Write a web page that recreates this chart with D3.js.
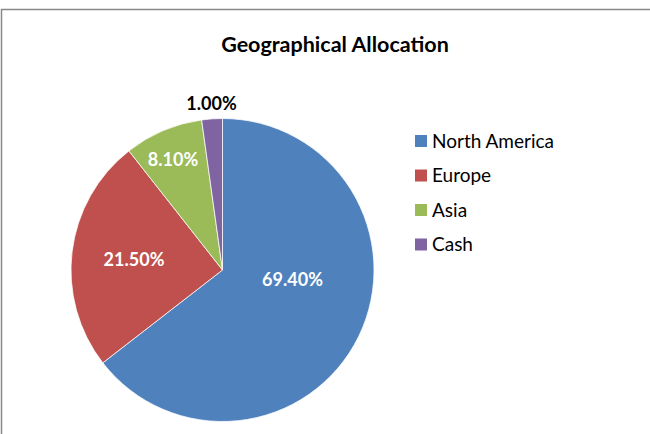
<!DOCTYPE html>
<html>
<head>
<meta charset="utf-8">
<title>Geographical Allocation</title>
<script src="https://d3js.org/d3.v7.min.js"></script>
<style>
  body { margin: 0; background: #fff; }
</style>
</head>
<body>
<div id="chart"></div>
<script>
// categories, wedge sizes as drawn, and the printed labels
var regions = ["North America", "Europe", "Asia", "Cash"];
var shares = [64.5, 24.9, 8.4, 2.2];
var labels = ["69.40%", "21.50%", "8.10%", "1.00%"];
var colors = ["#4F81BD", "#C0504D", "#9BBB59", "#8064A2"];

var width = 650, height = 434;
var cx = 222.5, cy = 270, r = 151.5;

var svg = d3.select("#chart").append("svg")
    .attr("width", width)
    .attr("height", height)
    .style("font-family", "Lato, 'Open Sans', sans-serif");

// chart frame (runs off the right and bottom)
svg.append("rect")
    .attr("x", 1.5).attr("y", 9.5)
    .attr("width", 700).attr("height", 500)
    .attr("fill", "none")
    .attr("stroke", "#888")
    .attr("stroke-width", 1.5);

svg.append("text")
    .attr("x", 335).attr("y", 52)
    .attr("text-anchor", "middle")
    .style("font-size", "21.5px")
    .style("font-weight", "bold")
    .attr("fill", "#000")
    .text("Geographical Allocation");

var data = regions.map(function(d, i) {
    return {region: d, value: shares[i], label: labels[i], color: colors[i]};
});

var pie = d3.pie().sort(null).value(function(d) { return d.value; });
var arc = d3.arc().innerRadius(0).outerRadius(r);
var arcs = pie(data);

var g = svg.append("g").attr("transform", "translate(" + cx + "," + cy + ")");

g.selectAll("path")
    .data(arcs)
    .enter()
    .append("path")
    .attr("d", arc)
    .attr("fill", function(d) { return d.data.color; })
    .attr("stroke", "#fff")
    .attr("stroke-width", 0.75);

// label offsets from the pie centre, as placed in the original
var labelPos = [[70, 10], [-88.5, -10], [-49.5, -110], [-11, -166]];
var labelColor = ["#fff", "#fff", "#fff", "#000"];

g.selectAll("text.lbl")
    .data(arcs)
    .enter()
    .append("text")
    .attr("class", "lbl")
    .attr("x", function(d, i) { return labelPos[i][0]; })
    .attr("y", function(d, i) { return labelPos[i][1]; })
    .attr("dy", "0.35em")
    .attr("text-anchor", "middle")
    .style("font-size", "18px")
    .style("font-weight", "bold")
    .attr("fill", function(d, i) { return labelColor[i]; })
    .text(function(d) { return d.data.label; });

// legend
var legend = svg.append("g").attr("transform", "translate(415,141)");
var item = legend.selectAll("g")
    .data(data)
    .enter()
    .append("g")
    .attr("transform", function(d, i) { return "translate(0," + (i * 34.5) + ")"; });

item.append("rect")
    .attr("x", 0).attr("y", -6)
    .attr("width", 12).attr("height", 12)
    .attr("fill", function(d) { return d.color; });

item.append("text")
    .attr("x", 17).attr("y", 0)
    .attr("dy", "0.35em")
    .style("font-size", "19px")
    .attr("fill", "#000")
    .text(function(d) { return d.region; });
</script>
</body>
</html>
